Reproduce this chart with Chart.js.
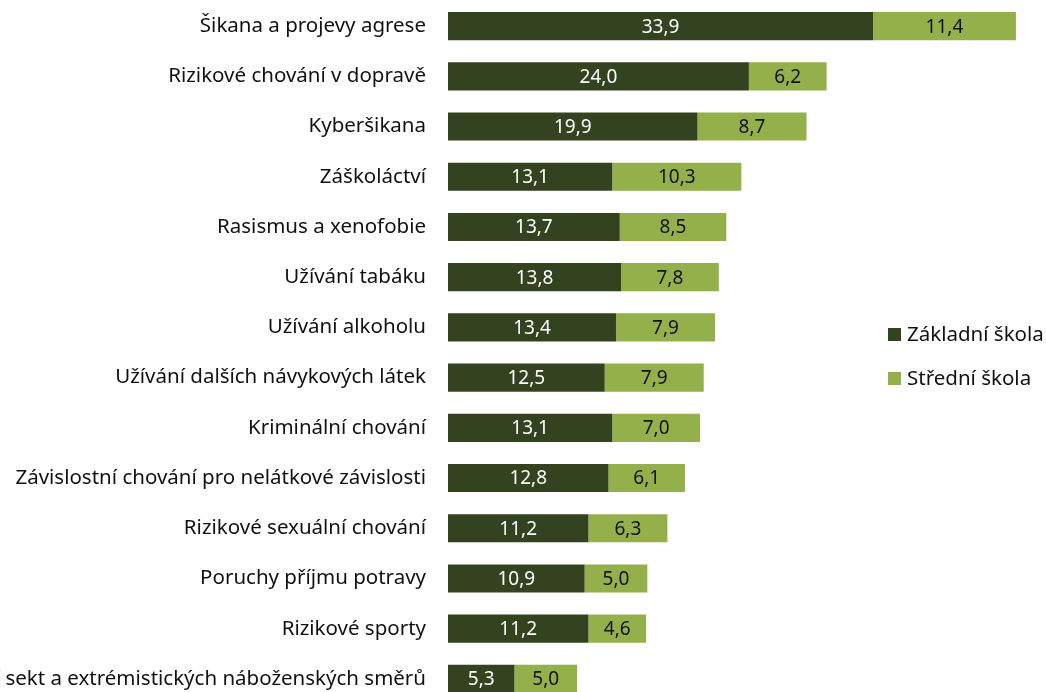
<!DOCTYPE html>
<html>
<head>
<meta charset="utf-8">
<script src="https://cdn.jsdelivr.net/npm/chart.js@4"></script>
<style>
  html, body { margin: 0; padding: 0; background: #fff; overflow: hidden; }
  #wrap { position: relative; width: 1046px; height: 692px; overflow: hidden; }
  #legend { position: absolute; left: 888px; top: 319px; font-family: "Noto Sans", sans-serif; font-size: 20.5px; color: #111; }
  #legend div { height: 44px; line-height: 28px; white-space: nowrap; }
  #legend span { display: inline-block; width: 13px; height: 13px; margin-right: 6px; vertical-align: 0px; }
</style>
</head>
<body>
<div id="wrap">
  <canvas id="chart-rizika" width="1046" height="704"></canvas>
  <div id="legend"></div>
</div>
<script>
const kategorie = [
  "Šikana a projevy agrese",
  "Rizikové chování v dopravě",
  "Kyberšikana",
  "Záškoláctví",
  "Rasismus a xenofobie",
  "Užívání tabáku",
  "Užívání alkoholu",
  "Užívání dalších návykových látek",
  "Kriminální chování",
  "Závislostní chování pro nelátkové závislosti",
  "Rizikové sexuální chování",
  "Poruchy příjmu potravy",
  "Rizikové sporty",
  "Působení sekt a extrémistických náboženských směrů"
]
const zakladni = [33.9, 24.0, 19.9, 13.1, 13.7, 13.8, 13.4, 12.5, 13.1, 12.8, 11.2, 10.9, 11.2, 5.3]
const stredni = [11.4, 6.2, 8.7, 10.3, 8.5, 7.8, 7.9, 7.9, 7.0, 6.1, 6.3, 5.0, 4.6, 5.0]

const barvy = ['#33421f', '#93b04b']
const popisky = ['#ffffff', '#111111']

// hodnoty doprostred sloupcu, s desetinnou carkou
const hodnotyPlugin = {
  id: 'hodnoty',
  afterDatasetsDraw(chart) {
    const ctx = chart.ctx
    ctx.save()
    ctx.font = '19px "Noto Sans", sans-serif'
    ctx.textAlign = 'center'
    ctx.textBaseline = 'middle'
    chart.data.datasets.forEach((ds, i) => {
      chart.getDatasetMeta(i).data.forEach((bar, j) => {
        const x = (bar.x + bar.base) / 2
        ctx.fillStyle = popisky[i]
        ctx.fillText(ds.data[j].toFixed(1).replace('.', ','), x, bar.y + 1)
      })
    })
    ctx.restore()
  }
}

const chart = new Chart(document.getElementById('chart-rizika'), {
  type: 'bar',
  data: {
    labels: kategorie,
    datasets: [{
      label: 'Základní škola',
      data: zakladni,
      backgroundColor: barvy[0],
      barPercentage: 0.56,
      categoryPercentage: 1
    }, {
      label: 'Střední škola',
      data: stredni,
      backgroundColor: barvy[1],
      barPercentage: 0.56,
      categoryPercentage: 1
    }]
  },
  options: {
    indexAxis: 'y',
    responsive: false,
    animation: false,
    layout: { autoPadding: false, padding: { top: 1, right: 0, bottom: 0, left: 0 } },
    plugins: {
      legend: { display: false },
      tooltip: { enabled: false }
    },
    scales: {
      x: {
        stacked: true,
        min: 0,
        max: 47.7,
        display: false
      },
      y: {
        stacked: true,
        grid: { display: false, drawTicks: false },
        border: { display: false },
        ticks: {
          padding: 22,
          color: '#111',
          font: { family: '"Noto Sans", sans-serif', size: 20.5 }
        },
        afterFit(axis) {
          axis.width = 448
          // padding popisku nema posouvat radky nahore a dole
          axis.paddingTop = 0
          axis.paddingBottom = 0
        }
      }
    }
  },
  plugins: [hodnotyPlugin]
})

const legend = document.getElementById('legend')
chart.data.datasets.forEach((ds, i) => {
  const d = document.createElement('div')
  d.innerHTML = '<span style="background:' + barvy[i] + '"></span>' + ds.label
  legend.appendChild(d)
})
</script>
</body>
</html>
